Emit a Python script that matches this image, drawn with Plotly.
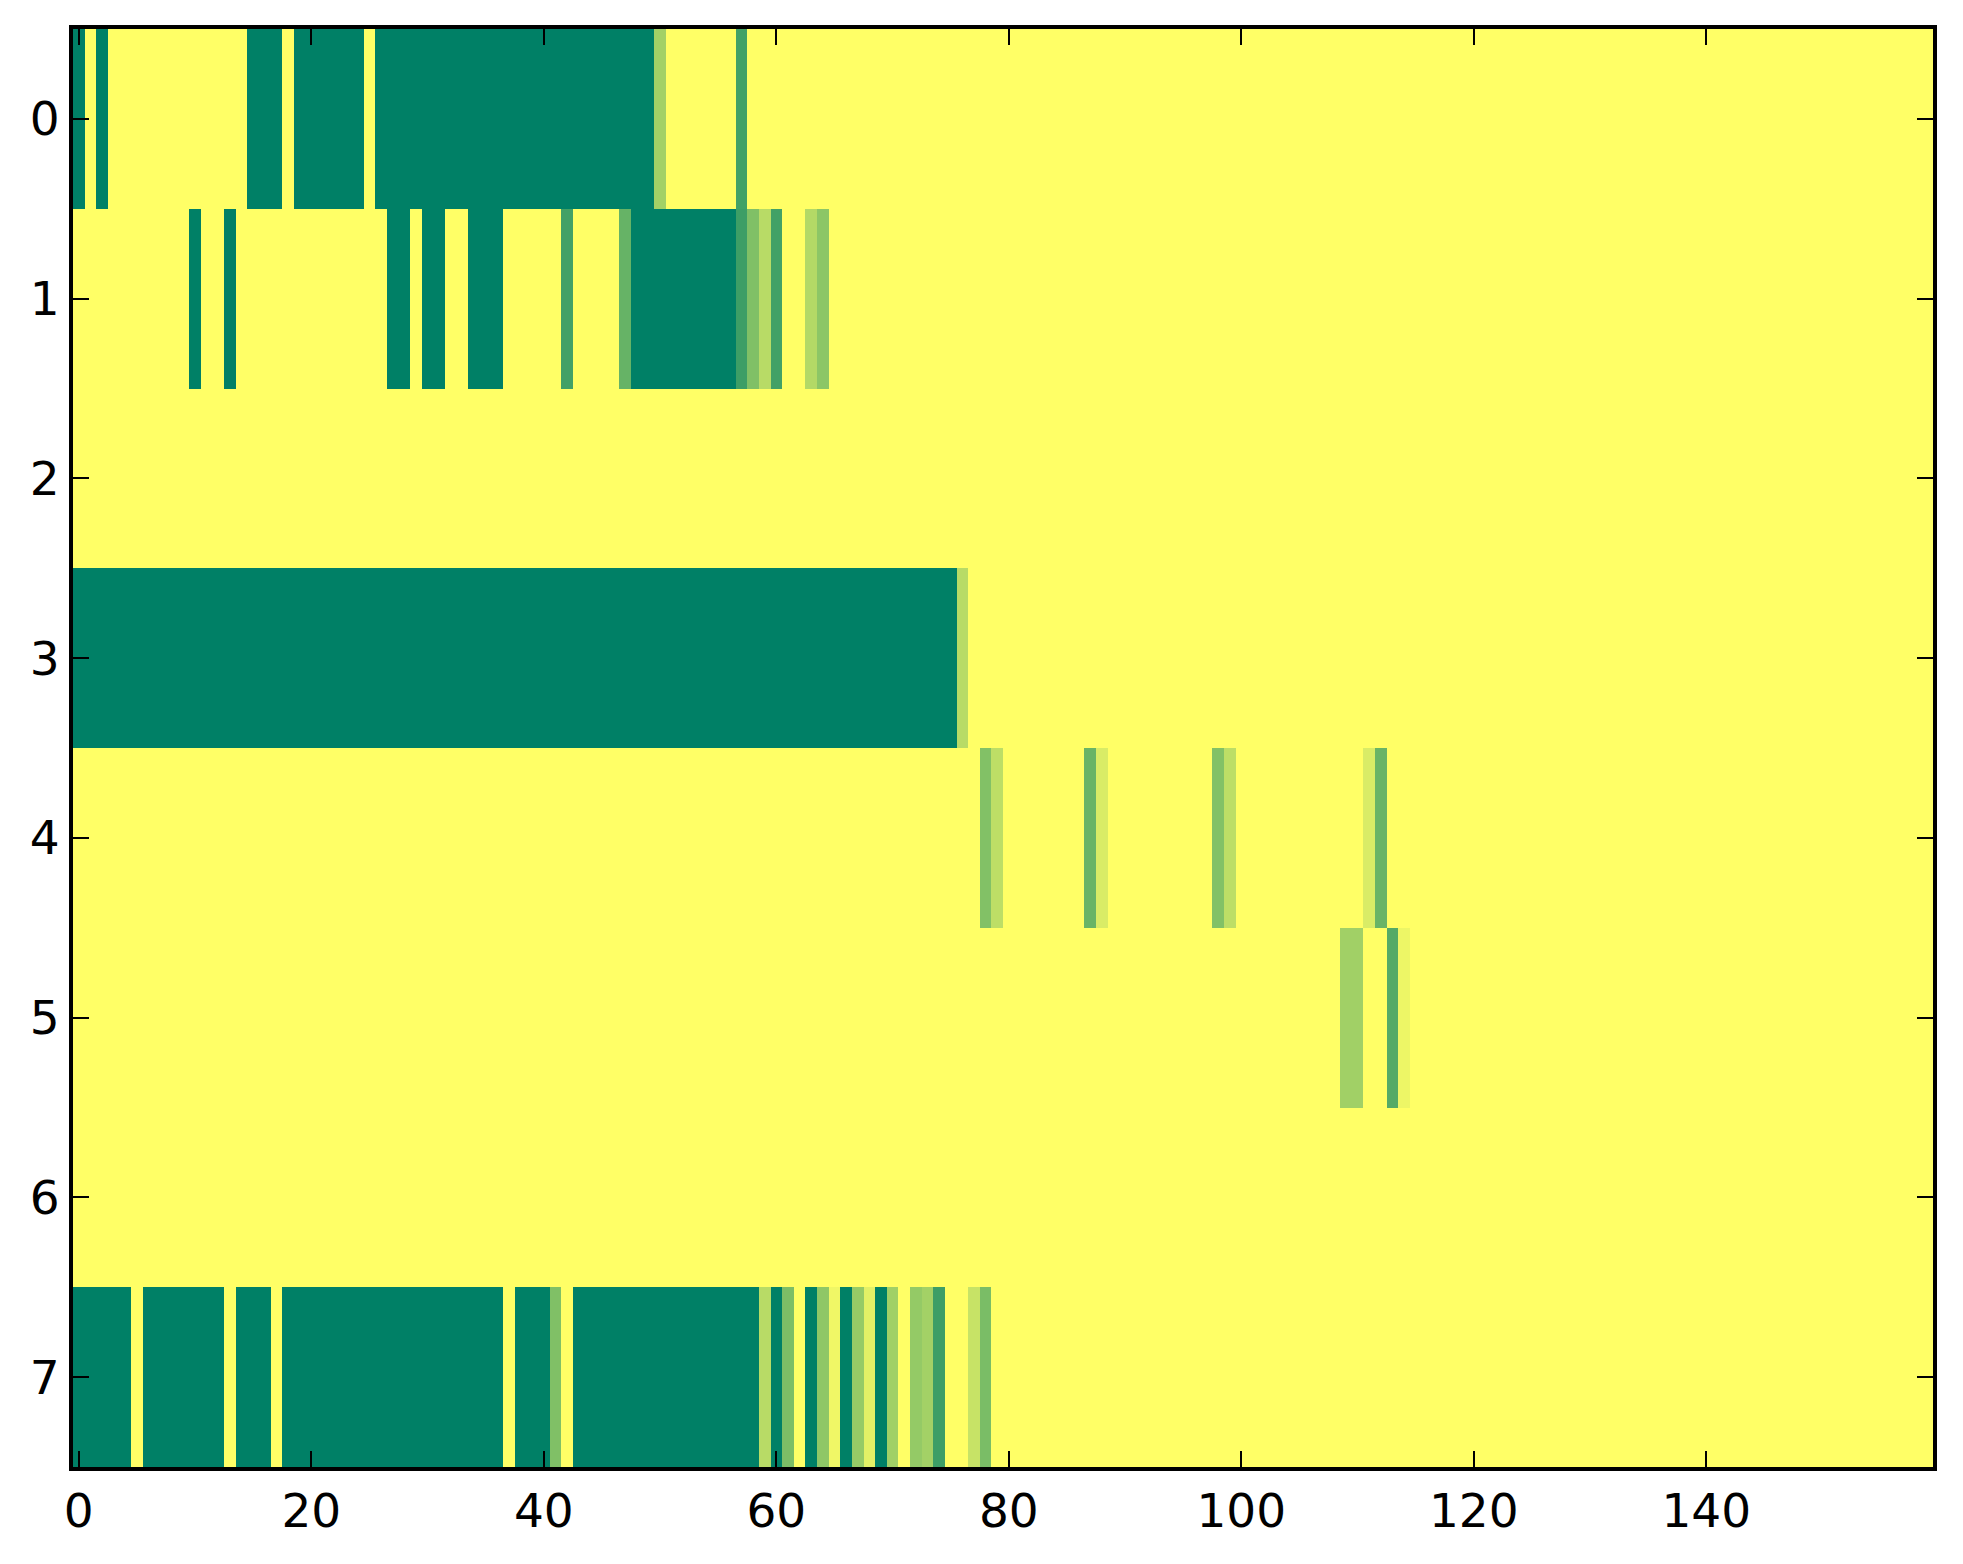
import plotly.graph_objects as go

# each row is a run-length list of (value, number of cells), left to right
row0 = [(0, 1), (1, 1), (0, 1), (1, 12), (0, 3), (1, 1), (0, 6), (1, 1), (0, 24),
        (0.64, 1), (1, 6), (0.26, 1), (1, 102)]
row1 = [(1, 10), (0, 1), (1, 2), (0, 1), (1, 13), (0, 2), (1, 1), (0, 2), (1, 2),
        (0, 3), (1, 5), (0.26, 1), (1, 4), (0.4, 1), (0, 9), (0.24, 1), (0.5, 1),
        (0.72, 1), (0.26, 1), (1, 2), (0.7, 1), (0.55, 1), (1, 95)]
row2 = [(1, 160)]
row3 = [(0, 76), (0.72, 1), (1, 83)]
row4 = [(1, 78), (0.51, 1), (0.74, 1), (1, 7), (0.41, 1), (0.85, 1), (1, 9),
        (0.51, 1), (0.74, 1), (1, 11), (0.85, 1), (0.41, 1), (1, 47)]
row5 = [(1, 109), (0.63, 2), (1, 2), (0.33, 1), (0.93, 1), (1, 45)]
row6 = [(1, 160)]
row7 = [(0, 5), (1, 1), (0, 7), (1, 1), (0, 3), (1, 1), (0, 19), (1, 1), (0, 3),
        (0.5, 1), (1, 1), (0, 16), (0.72, 1), (0, 1), (0.49, 1), (1, 1), (0, 1),
        (0.56, 1), (0.94, 1), (0, 1), (0.59, 1), (0.89, 1), (0, 1), (0.63, 1),
        (1, 1), (0.58, 1), (0.64, 1), (0.24, 1), (1, 2), (0.78, 1), (0.48, 1),
        (1, 81)]

x_ticks = [0, 20, 40, 60, 80, 100, 120, 140]
y_ticks = [0, 1, 2, 3, 4, 5, 6, 7]


def expand(runs):
    out = []
    for v, n in runs:
        out += [v] * n
    return out


z = [expand(r) for r in [row0, row1, row2, row3, row4, row5, row6, row7]]

# matplotlib "summer" colormap
summer = [[0, "rgb(0,128,102)"], [1, "rgb(255,255,102)"]]

fig = go.Figure(
    go.Heatmap(z=z, colorscale=summer, zmin=0, zmax=1, showscale=False)
)

axis_style = dict(
    showline=True, linewidth=4, linecolor="black", mirror="ticks",
    ticks="inside", ticklen=16, tickwidth=2, tickcolor="black",
    showgrid=False, zeroline=False,
    tickfont=dict(family="DejaVu Sans", size=47, color="black"),
)

fig.update_layout(
    width=1963, height=1564,
    margin=dict(l=73, r=30, t=29, b=97),
    paper_bgcolor="white", plot_bgcolor="white",
    xaxis=dict(range=[-0.5, 159.5], tickvals=x_ticks, ticklabelstandoff=0, **axis_style),
    yaxis=dict(range=[7.5, -0.5], tickvals=y_ticks, ticklabelstandoff=0, **axis_style),
)

fig.write_html("out.html", config={"displayModeBar": False},
               post_script="document.body.style.margin='0';")
